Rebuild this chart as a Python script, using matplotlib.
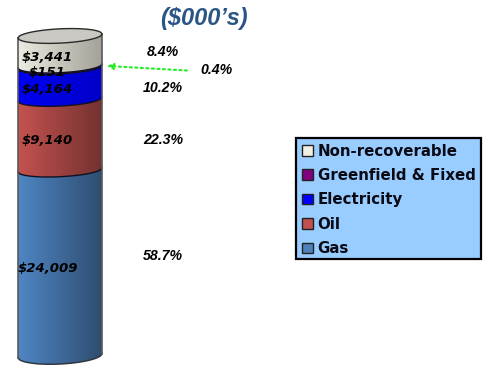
import numpy as np
import matplotlib
matplotlib.use("Agg")
import matplotlib.pyplot as plt
from matplotlib.patches import Patch, Polygon, Rectangle
from matplotlib.colors import LinearSegmentedColormap

categories = ["Gas", "Oil", "Electricity", "Greenfield & Fixed", "Non-recoverable"]
values = [24009, 9140, 4164, 151, 3441]
value_labels = ["$24,009", "$9,140", "$4,164", "$151", "$3,441"]
pct_labels = ["58.7%", "22.3%", "10.2%", "0.4%", "8.4%"]
title = "($000\u2019s)"
legend_colors = ["#4f81bd", "#c0504d", "#0000ff", "#800080", "#f2efe4"]
grad_left = ["#4f86c4", "#c4524f", "#0000f5", "#800080", "#ecebe2"]
grad_right = ["#2f4d70", "#743230", "#0000c8", "#600060", "#a3a198"]

PX = 0.00773              # pixels per unit
BASE_Y = 355.5
def vy(py):               # pixel row -> data value
    return (BASE_Y - py) / PX

fig = plt.figure(figsize=(5, 3.72), dpi=100, facecolor="white")
ax = fig.add_axes([0, 0, 1, 1])
ax.set_xlim(0, 500)
ax.set_ylim(vy(372), vy(0))
ax.axis("off")

XL, XR = 18, 102
XC, A = (XL + XR) / 2, (XR - XL) / 2
B = 6.8 / PX
TILT = 2 / PX
xs = np.linspace(XL, XR, 80)
t = (xs - XC) / A
def arc(level, sign=-1, b=B):
    return level + sign * b * np.sqrt(np.clip(1 - t**2, 0, 1)) + TILT * t

cum = np.concatenate([[0], np.cumsum(values)])
CAP_EXTRA = 430           # cylinder top sits slightly above the stacked total
tops = cum[1:].astype(float)
tops[-1] += CAP_EXTRA

grad = np.linspace(0, 1, 256).reshape(1, -1)
for i in range(len(values)):
    lo, hi = cum[i], tops[i]
    low = arc(lo, b=B * 1.25 if i == 0 else B)
    up = arc(hi)
    poly = Polygon(np.vstack([np.column_stack([xs, low]),
                              np.column_stack([xs[::-1], up[::-1]])]),
                   closed=True, facecolor="none", edgecolor="none", transform=ax.transData)
    ax.add_patch(poly)
    cmap = LinearSegmentedColormap.from_list("c", [grad_left[i], grad_right[i]])
    im = ax.imshow(grad, extent=[XL, XR, low.min(), up.max()], cmap=cmap, aspect="auto", zorder=2)
    im.set_clip_path(poly)
    if i > 0:
        ax.plot(xs, low, color="#101020", lw=1.0, zorder=3)
ax.set_xlim(0, 500)
ax.set_ylim(vy(372), vy(0))

# outline
bottom = arc(0, b=B * 1.25)
ax.plot(xs, bottom, color="#303840", lw=1.1, zorder=4)
ax.plot([XL, XL], [bottom[0], tops[-1] - TILT], color="#5a5a5a", lw=1.2, zorder=4)
ax.plot([XR, XR], [bottom[-1], tops[-1] + TILT], color="#5a5a5a", lw=1.2, zorder=4)
# top cap
capu = arc(tops[-1], 1, b=B * 1.05)
capd = arc(tops[-1], -1, b=B * 1.05)
ax.add_patch(Polygon(np.vstack([np.column_stack([xs, capd]),
                                np.column_stack([xs[::-1], capu[::-1]])]),
                     closed=True, facecolor="#c9c8c2", edgecolor="#2a2a2a", lw=1.0, zorder=5))

val_txt = dict(family="DejaVu Sans", weight="bold", style="italic", color="black",
               ha="center", va="center", zorder=6)
val_pos = [(48, 269), (47, 141), (47, 90), (47, 72), (47, 58)]
for s, (x, y) in zip(value_labels, val_pos):
    ax.text(x, vy(y), s, fontsize=9.5, **val_txt)
pct_txt = dict(val_txt, family="Liberation Sans")
pct_pos = [(163, 256), (163, 140), (163, 88), (216, 70), (163, 52)]
for s, (x, y) in zip(pct_labels, pct_pos):
    ax.text(x, vy(y), s, fontsize=10.2, **pct_txt)

ax.text(203.5, vy(18), title, fontsize=17, family="Liberation Sans", weight="bold",
        style="italic", color="#2a5585", ha="center", va="center", zorder=6)

ax.annotate("", xy=(107, vy(66)), xytext=(187, vy(70.5)), zorder=6,
            arrowprops=dict(arrowstyle="-|>", color="#22ee22", lw=1.5, ls=":",
                            mutation_scale=9, shrinkA=0, shrinkB=0))

# legend panel
ax.add_patch(Rectangle((296, vy(259)), 185, vy(138) - vy(259), facecolor="#99ccff",
                       edgecolor="black", lw=1.6, zorder=6))
handles = [Patch(facecolor=c, edgecolor="#222222", linewidth=1) for c in legend_colors]
leg = ax.legend(handles[::-1], categories[::-1], loc="upper left",
                bbox_to_anchor=(296 / 500, 1 - 137.5 / 372), bbox_transform=ax.transAxes,
                prop=dict(family="DejaVu Sans", weight="bold", size=10.8),
                frameon=False,
                handlelength=0.7, handleheight=0.7, handletextpad=0.35, borderpad=0.4,
                labelspacing=0.63, borderaxespad=0, labelcolor="#0a0a14")
leg.set_zorder(7)

fig.savefig("out.png", dpi=100, facecolor="white")
